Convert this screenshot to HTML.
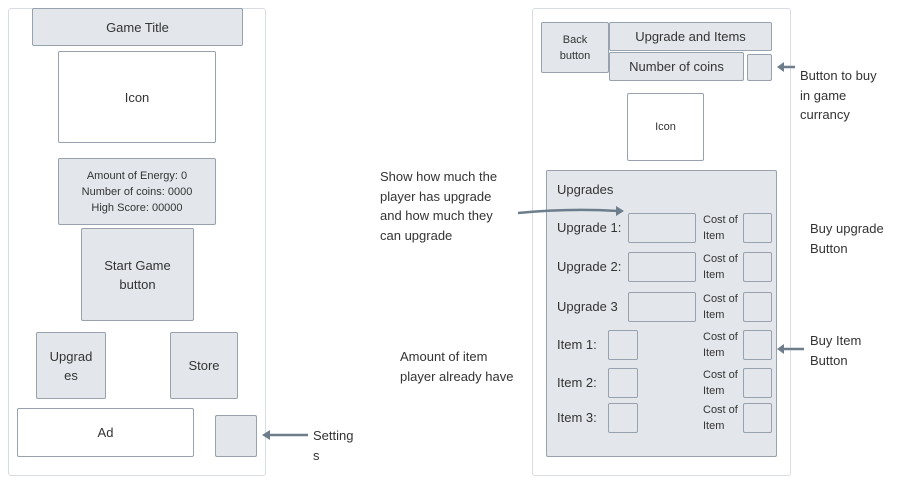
<!DOCTYPE html>
<html><head><meta charset="utf-8"><style>
body{margin:0;width:903px;height:483px;background:#fff;position:relative;overflow:hidden;font-family:"Liberation Sans",sans-serif;color:#333;}
div{position:absolute;box-sizing:border-box;}
.b{background:#e3e7ec;border:1.5px solid #97a2ae;border-radius:2px;display:flex;align-items:center;justify-content:center;text-align:center;font-size:13px;line-height:19px;}
.w{background:#fff;}
.f{border:1.5px solid #d8dde3;border-radius:3px;background:#fff;}
.t{font-size:13px;line-height:19.5px;white-space:nowrap;}
.s{font-size:11px;line-height:16px;}
.c{font-size:11px;line-height:16px;white-space:nowrap;}
</style></head><body>
<div class="f" style="left:8px;top:8px;width:258px;height:468px"></div>
<div class="b" style="left:32px;top:8px;width:211px;height:38px">Game Title</div>
<div class="b w" style="left:58px;top:51px;width:158px;height:92px">Icon</div>
<div class="b s" style="left:58px;top:158px;width:158px;height:67px">Amount of Energy: 0<br>Number of coins: 0000<br>High Score: 00000</div>
<div class="b" style="left:81px;top:228px;width:113px;height:93px">Start Game<br>button</div>
<div class="b" style="left:36px;top:332px;width:70px;height:67px">Upgrad<br>es</div>
<div class="b" style="left:170px;top:332px;width:68px;height:67px">Store</div>
<div class="b w" style="left:17px;top:408px;width:177px;height:49px">Ad</div>
<div class="b" style="left:215px;top:415px;width:42px;height:42px"></div>
<div class="t" style="left:313px;top:426px">Setting<br>s</div>

<div class="f" style="left:532px;top:8px;width:259px;height:468px"></div>
<div class="b s" style="left:541px;top:22px;width:68px;height:51px">Back<br>button</div>
<div class="b" style="left:609px;top:22px;width:163px;height:29px">Upgrade and Items</div>
<div class="b" style="left:609px;top:52px;width:135px;height:29px">Number of coins</div>
<div class="b" style="left:747px;top:54px;width:25px;height:27px"></div>
<div class="b w s" style="left:627px;top:93px;width:77px;height:68px">Icon</div>
<div class="b" style="left:546px;top:170px;width:231px;height:287px"></div>
<div class="t" style="left:557px;top:180px">Upgrades</div>
<div id="rows"></div>

<div class="t" style="left:800px;top:66px">Button to buy<br>in game<br>currancy</div>
<div class="t" style="left:810px;top:219px">Buy upgrade<br>Button</div>
<div class="t" style="left:810px;top:331px">Buy Item<br>Button</div>
<div class="t" style="left:380px;top:167px">Show how much the<br>player has upgrade<br>and how much they<br>can upgrade</div>
<div class="t" style="left:400px;top:347px">Amount of item<br>player already have</div>

<svg width="903" height="483" style="position:absolute;left:0;top:0">
<g stroke="#6d7d8c" stroke-width="2.5" fill="none">
<line x1="308" y1="435" x2="268" y2="435"/>
<line x1="795" y1="67" x2="782" y2="67"/>
<line x1="804" y1="349" x2="782" y2="349"/>
<path d="M518 213 Q570 208 618 211"/>
</g>
<g fill="#6d7d8c">
<polygon points="262,435 270,430 270,440"/>
<polygon points="777,67 784,62 784,72"/>
<polygon points="777,349 784,344 784,354"/>
<polygon points="624,211 616,206 616,216"/>
</g>
</svg>
<script>
const rowLabels=["Upgrade 1:","Upgrade 2:","Upgrade 3","Item 1:","Item 2:","Item 3:"];
const rowTops=[213,252,292,330,368,403];
const rowWide=[true,true,true,false,false,false];
const host=document.getElementById('rows');
rowLabels.forEach((lab,i)=>{
  const y=rowTops[i];
  const l=document.createElement('div');
  
  
  l.className='t';l.style.left='557px';l.style.top=(y+5)+'px';l.textContent=lab;host.appendChild(l);
  const v=document.createElement('div');
  
  
  v.className='b';
  if(rowWide[i]){v.style.left='628px';v.style.width='68px';}else{v.style.left='608px';v.style.width='30px';}
  v.style.top=y+'px';v.style.height='30px';host.appendChild(v);
  const c=document.createElement('div');
  
  
  c.className='c';c.style.left='703px';c.style.top=(y-1)+'px';c.innerHTML='Cost of<br>Item';host.appendChild(c);
  const btn=document.createElement('div');
  
  
  btn.className='b';btn.style.left='743px';btn.style.top=y+'px';btn.style.width='29px';btn.style.height='30px';host.appendChild(btn);
});
</script>
</body></html>
